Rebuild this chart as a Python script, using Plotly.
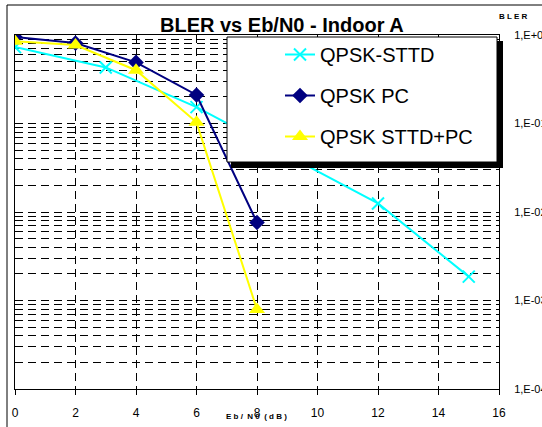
import plotly.graph_objects as go

# ---- data ----
sttd_x = [0, 3, 6, 12, 15]
sttd_y = [0.73, 0.43, 0.153, 0.0125, 0.00186]

pc_x = [0, 2, 4, 6, 8]
pc_y = [0.95, 0.81, 0.49, 0.21, 0.0076]

sttdpc_x = [0, 2, 4, 6, 8]
sttdpc_y = [0.85, 0.77, 0.40, 0.103, 0.00079]

y_tickvals = [1e-4, 1e-3, 1e-2, 1e-1, 1]
y_ticktext = ["1,E-04", "1,E-03", "1,E-02", "1,E-01", "1,E+00"]
x_tickvals = [0, 2, 4, 6, 8, 10, 12, 14, 16]

minor_vals = [m * 10.0 ** e for e in range(-4, 0) for m in range(2, 10)]

# plot area in pixels
W, H = 542, 427
L, R, T, B = 15, 499, 35, 389


def px(x):
    return (x - L) / (R - L)


def py(y):
    return (B - y) / (B - T)


fig = go.Figure()
fig.add_trace(go.Scatter(x=sttd_x, y=sttd_y, name="QPSK-STTD", mode="lines+markers",
                         line=dict(color="#00FFFF", width=2),
                         marker=dict(symbol="x-thin", size=12, line=dict(color="#00FFFF", width=2)),
                         legendgroup="a"))
fig.add_trace(go.Scatter(x=pc_x, y=pc_y, name="QPSK PC", mode="lines+markers",
                         line=dict(color="#000080", width=2),
                         marker=dict(symbol="diamond", size=12, color="#000080"),
                         legendgroup="b"))
fig.add_trace(go.Scatter(x=sttdpc_x, y=sttdpc_y, name="QPSK STTD+PC", mode="lines+markers",
                         line=dict(color="#FFFF00", width=2),
                         marker=dict(symbol="triangle-up", size=14, color="#FFFF00"),
                         legendgroup="c"))

dash = "8px,5px"
fig.update_xaxes(range=[0, 16], tickvals=x_tickvals, ticks="outside", ticklen=5, tickcolor="black",
                 showline=True, linecolor="black", linewidth=1, mirror=True, automargin=False,
                 showgrid=True, gridcolor="black", gridwidth=1, griddash=dash, zeroline=False,
                 tickfont=dict(family="Liberation Sans, Arial", size=12, color="black"),
                 ticklabelstandoff=8)
fig.update_yaxes(type="log", range=[-4, 0], side="right", tickvals=y_tickvals, ticktext=y_ticktext,
                 ticks="", showline=True, linecolor="black", linewidth=1, mirror=True, automargin=False,
                 showgrid=True, gridcolor="black", gridwidth=1, griddash=dash, zeroline=False,
                 minor=dict(tickvals=minor_vals, showgrid=True, gridcolor="black", gridwidth=1,
                            griddash=dash, ticks=""),
                 tickfont=dict(family="Liberation Sans, Arial", size=11, color="black"),
                 ticklabelstandoff=12)

shapes = [
    # outer frame
    dict(type="rect", xref="paper", yref="paper", x0=px(7), x1=px(700), y0=py(600), y1=py(5),
         line=dict(color="black", width=1), fillcolor="rgba(0,0,0,0)", layer="below"),
    # legend shadow
    dict(type="rect", xref="paper", yref="paper", x0=px(231), x1=px(503), y0=py(168), y1=py(41),
         line=dict(width=0), fillcolor="black", layer="above"),
    # legend box
    dict(type="rect", xref="paper", yref="paper", x0=px(227), x1=px(497), y0=py(162), y1=py(37),
         line=dict(color="black", width=1), fillcolor="white", layer="above"),
]

annotations = [
    dict(text="<b>BLER vs Eb/N0 - Indoor A</b>", xref="paper", yref="paper", x=px(282), y=py(25),
         showarrow=False, xanchor="center", yanchor="middle",
         font=dict(family="Liberation Sans, Arial", size=20, color="black")),
    dict(text="<b>B L E R</b>", xref="paper", yref="paper", x=px(513), y=py(16),
         showarrow=False, xanchor="center", yanchor="middle",
         font=dict(family="Liberation Sans, Arial", size=8, color="black")),
    dict(text="<b>E b /  N 0  ( d B )</b>", xref="paper", yref="paper", x=px(256), y=py(416),
         showarrow=False, xanchor="center", yanchor="middle",
         font=dict(family="Liberation Sans, Arial", size=8, color="black")),
]

fig.update_layout(
    width=W, height=H,
    margin=dict(l=L, r=W - R, t=T, b=H - B, pad=0, autoexpand=False),
    paper_bgcolor="white", plot_bgcolor="white",
    showlegend=True,
    legend=dict(x=px(280), y=py(35), xanchor="left", yanchor="top",
                bgcolor="rgba(0,0,0,0)", borderwidth=0, tracegroupgap=12,
                font=dict(family="Liberation Sans, Arial", size=20, color="black")),
    shapes=shapes, annotations=annotations,
)

fig.write_html("out.html")
